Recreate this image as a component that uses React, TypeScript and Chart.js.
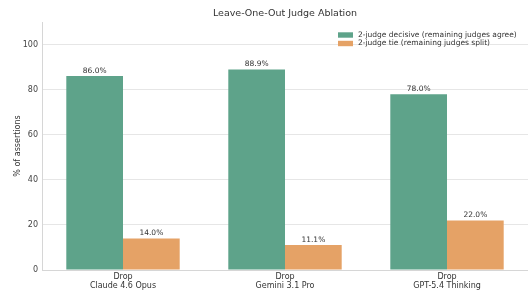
import React, { useEffect, useRef } from "react";
import { Chart, registerables } from "chart.js";

Chart.register(...registerables);

const categories: string[][] = [
  ["Drop", "Claude 4.6 Opus"],
  ["Drop", "Gemini 3.1 Pro"],
  ["Drop", "GPT-5.4 Thinking"],
];
const decisiveValues = [86.0, 88.9, 78.0];
const tieValues = [14.0, 11.1, 22.0];
const seriesNames = [
  "2-judge decisive (remaining judges agree)",
  "2-judge tie (remaining judges split)",
];
const yTicks = [0, 20, 40, 60, 80, 100];
const titleText = "Leave-One-Out Judge Ablation";
const yAxisLabel = "% of assertions";

const GREEN = "#5ea38a";
const ORANGE = "#e5a266";
const FONT = "'DejaVu Sans', sans-serif";

const overlay = {
  id: "overlay",
  afterDatasetsDraw(chart: any) {
    const ctx = chart.ctx;
    ctx.save();
    ctx.font = `7.5px ${FONT}`;
    ctx.fillStyle = "#333";
    ctx.textAlign = "center";
    ctx.textBaseline = "bottom";
    chart.data.datasets.forEach((ds: any, i: number) => {
      const meta = chart.getDatasetMeta(i);
      meta.data.forEach((bar: any, j: number) => {
        ctx.fillText(ds.data[j].toFixed(1) + "%", bar.x, bar.y - 1.5);
      });
    });
    const ca = chart.chartArea;
    ctx.font = `9.5px ${FONT}`;
    ctx.fillStyle = "#333";
    ctx.textBaseline = "middle";
    ctx.fillText(titleText, (ca.left + ca.right) / 2, 14);
    ctx.font = `7.5px ${FONT}`;
    ctx.textAlign = "left";
    const colors = [GREEN, ORANGE];
    const ys = [35, 43.5];
    seriesNames.forEach((n, i) => {
      ctx.fillStyle = colors[i];
      ctx.fillRect(338, ys[i] - 2.7, 15, 5.4);
      ctx.fillStyle = "#333";
      ctx.fillText(n, 358, ys[i]);
    });
    ctx.restore();
  },
};

export default function App() {
  const ref = useRef<HTMLCanvasElement | null>(null);
  useEffect(() => {
    document.body.style.margin = "0";
    const chart = new Chart(ref.current as HTMLCanvasElement, {
      type: "bar",
      data: {
        labels: categories as any,
        datasets: [
          {
            label: seriesNames[0],
            data: decisiveValues,
            backgroundColor: GREEN,
            borderWidth: 0,
          },
          {
            label: seriesNames[1],
            data: tieValues,
            backgroundColor: ORANGE,
            borderWidth: 0,
          },
        ],
      },
      options: {
        animation: false,
        responsive: false,
        maintainAspectRatio: false,
        layout: { padding: { top: 22, left: 0, right: 0, bottom: 0 } },
        datasets: { bar: { categoryPercentage: 0.7, barPercentage: 1.0 } },
        plugins: {
          legend: { display: false },
          title: { display: false },
          tooltip: { enabled: false },
        },
        scales: {
          x: {
            grid: { display: false, drawTicks: false },
            border: { color: "#d6d6d6", width: 1 },
            ticks: {
              font: { family: FONT, size: 8, lineHeight: 1.2 },
              color: "#333",
              padding: 2,
              maxRotation: 0,
              autoSkip: false,
            },
            afterFit: (s: any) => {
              s.height = 20;
            },
          },
          y: {
            min: 0,
            max: 110,
            grid: { color: "#e6e6e6", lineWidth: 1, drawTicks: false },
            border: { color: "#d6d6d6", width: 1 },
            afterBuildTicks: (s: any) => {
              s.ticks = yTicks.map((v) => ({ value: v }));
            },
            ticks: {
              font: { family: FONT, size: 8 },
              color: "#444",
              padding: 4,
            },
            title: {
              display: true,
              text: yAxisLabel,
              font: { family: FONT, size: 8 },
              color: "#333",
              padding: { top: 13, bottom: 0 },
            },
            afterFit: (s: any) => {
              s.width = 42;
            },
          },
        },
      },
      plugins: [overlay],
    });
    return () => chart.destroy();
  }, []);
  return (
    <div style={{ position: "fixed", left: 0, top: 0, width: 528, height: 290, background: "#fff" }}>
      <canvas ref={ref} width={528} height={290} style={{ width: 528, height: 290 }} />
    </div>
  );
}
